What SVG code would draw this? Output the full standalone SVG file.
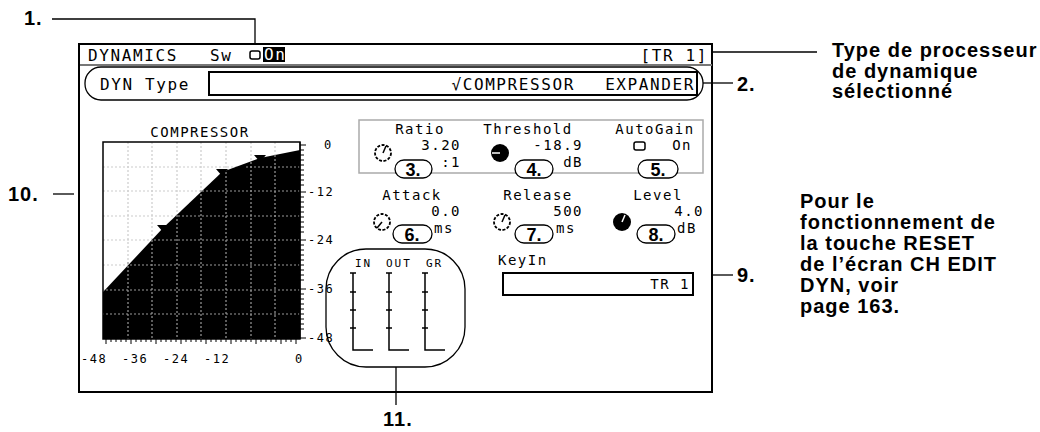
<svg xmlns="http://www.w3.org/2000/svg" width="1040" height="432" viewBox="0 0 1040 432">
<style>
.m{font-family:"DejaVu Sans Mono","Liberation Mono",monospace;font-size:16px;letter-spacing:1.6px;fill:#000}
.p{font-family:"DejaVu Sans Mono","Liberation Mono",monospace;font-size:14px;letter-spacing:1.5px;fill:#000}
.s{font-family:"DejaVu Sans Mono","Liberation Mono",monospace;font-size:12px;letter-spacing:1.5px;fill:#000}
.t{font-family:"DejaVu Sans Mono","Liberation Mono",monospace;font-size:11px;letter-spacing:2px;fill:#000}
.b{font-family:"Liberation Sans",Arial,sans-serif;font-weight:bold;font-size:20px;letter-spacing:1px;fill:#000}
.n{font-family:"Liberation Sans",Arial,sans-serif;font-weight:bold;font-size:18px;fill:#000}
.l{stroke:#000;stroke-width:1.3;fill:none}
.bub{fill:#fff;stroke:#000;stroke-width:1.3}
.gridw{stroke:#ccc;stroke-width:1.2;stroke-dasharray:2 2}
</style>
<rect width="1040" height="432" fill="#fff"/>
<g id="screen">
<rect x="79" y="44" width="633" height="348" fill="#fff" stroke="#000" stroke-width="2"/>
<text class="m" x="88" y="61">DYNAMICS</text>
<text class="m" x="210" y="61">Sw</text>
<rect x="250" y="51" width="10" height="8" rx="2" fill="none" stroke="#000" stroke-width="1.5"/>
<rect x="263" y="47" width="22" height="15" fill="#000"/>
<text class="m" x="264" y="60" style="fill:#fff">On</text>
<text class="m" x="708" y="61" text-anchor="end">[TR 1]</text>
<line x1="80" y1="65" x2="712" y2="65" stroke="#777" stroke-width="2"/>
</g>
<g id="dyntype">
<rect x="85" y="67" width="618" height="33" rx="16" fill="none" stroke="#000" stroke-width="1.3"/>
<text class="m" x="100" y="90">DYN Type</text>
<rect x="209" y="72" width="488" height="23" fill="#fff" stroke="#000" stroke-width="2"/>
<text class="m" x="575" y="90" text-anchor="end">√COMPRESSOR</text>
<text class="m" x="695" y="90" text-anchor="end">EXPANDER</text>
</g>
<g id="graph">
<text class="p" x="200" y="137" text-anchor="middle">COMPRESSOR</text>
<rect x="103" y="142" width="197" height="197" fill="#fff"/>
<g class="gridw">
<line x1="128" y1="142" x2="128" y2="339"/><line x1="152" y1="142" x2="152" y2="339"/><line x1="177" y1="142" x2="177" y2="339"/><line x1="201" y1="142" x2="201" y2="339"/><line x1="226" y1="142" x2="226" y2="339"/><line x1="251" y1="142" x2="251" y2="339"/><line x1="275" y1="142" x2="275" y2="339"/>
<line x1="103" y1="167" x2="300" y2="167"/><line x1="103" y1="191" x2="300" y2="191"/><line x1="103" y1="216" x2="300" y2="216"/><line x1="103" y1="240" x2="300" y2="240"/><line x1="103" y1="265" x2="300" y2="265"/><line x1="103" y1="290" x2="300" y2="290"/><line x1="103" y1="314" x2="300" y2="314"/>
</g>
<polygon points="103,292 163,228 222,172 260,158 300,150 300,339 103,339" fill="#000"/>
<g stroke="#999" stroke-width="1.2" stroke-dasharray="2 2">
<line x1="128" y1="262" x2="128" y2="339"/><line x1="152" y1="240" x2="152" y2="339"/><line x1="177" y1="215" x2="177" y2="339"/><line x1="201" y1="190" x2="201" y2="339"/><line x1="226" y1="172" x2="226" y2="339"/><line x1="251" y1="162" x2="251" y2="339"/><line x1="275" y1="155" x2="275" y2="339"/>
<line x1="300" y1="167" x2="245" y2="167"/><line x1="300" y1="191" x2="200" y2="191"/><line x1="300" y1="216" x2="176" y2="216"/><line x1="300" y1="240" x2="152" y2="240"/><line x1="300" y1="265" x2="128" y2="265"/><line x1="300" y1="290" x2="106" y2="290"/><line x1="300" y1="314" x2="103" y2="314"/>
</g>
<rect x="103" y="142" width="197" height="197" fill="none" stroke="#000" stroke-width="1.5"/>
<polygon points="157,225 169,225 163,232" fill="#000"/>
<polygon points="216,169 228,169 222,176" fill="#000"/>
<polygon points="254,155 266,155 260,162" fill="#000"/>
<g stroke="#000" stroke-width="1">
<line x1="300" y1="142" x2="300" y2="339"/>
<path d="M300 145h6M300 150h4M300 155h4M300 160h4M300 165h4M300 170h4M300 175h4M300 180h4M300 185h4M300 192h6M300 197h4M300 202h4M300 207h4M300 212h4M300 217h4M300 222h4M300 227h4M300 232h4M300 240h6M300 245h4M300 250h4M300 255h4M300 260h4M300 265h4M300 270h4M300 275h4M300 280h4M300 289h6M300 294h4M300 299h4M300 304h4M300 309h4M300 314h4M300 319h4M300 324h4M300 329h4M300 338h6"/>
<path d="M106 339v5M111 339v3M116 339v3M121 339v3M126 339v3M131 339v5M136 339v3M141 339v3M146 339v3M151 339v3M156 339v5M161 339v3M166 339v3M171 339v3M176 339v3M181 339v5M186 339v3M191 339v3M196 339v3M201 339v3M206 339v5M211 339v3M216 339v3M221 339v3M226 339v3M231 339v5M236 339v3M241 339v3M246 339v3M251 339v3M256 339v5M261 339v3M266 339v3M271 339v3M276 339v3M281 339v5M286 339v3M291 339v3M296 339v5"/>
</g>
<text class="s" x="324" y="149">0</text>
<text class="s" x="308" y="196">-12</text>
<text class="s" x="308" y="244">-24</text>
<text class="s" x="308" y="293">-36</text>
<text class="s" x="308" y="342">-48</text>
<text class="s" x="81" y="363">-48</text>
<text class="s" x="122" y="363">-36</text>
<text class="s" x="163" y="363">-24</text>
<text class="s" x="204" y="363">-12</text>
<text class="s" x="295" y="363">0</text>
</g>
<g id="params">
<rect x="359" y="120" width="344" height="53" fill="none" stroke="#aaa" stroke-width="1.5"/>
<text class="p" x="420" y="134" text-anchor="middle">Ratio</text>
<text class="p" x="528" y="134" text-anchor="middle">Threshold</text>
<text class="p" x="655" y="134" text-anchor="middle">AutoGain</text>
<circle cx="383" cy="153" r="8" fill="none" stroke="#000" stroke-width="1.8" stroke-dasharray="3 1.5"/><line x1="383" y1="153" x2="386" y2="146" stroke="#000" stroke-width="1.5"/>
<circle cx="500" cy="153" r="9" fill="#000"/><line x1="500" y1="153" x2="492" y2="153" stroke="#fff" stroke-width="1.5"/>
<text class="p" x="461" y="150" text-anchor="end">3.20</text>
<text class="p" x="461" y="167" text-anchor="end">:1</text>
<text class="p" x="583" y="150" text-anchor="end">-18.9</text>
<text class="p" x="583" y="167" text-anchor="end">dB</text>
<rect x="634" y="142" width="11" height="8" rx="2" fill="none" stroke="#000" stroke-width="1.5"/>
<text class="p" x="692" y="150" text-anchor="end">On</text>
<text class="p" x="412" y="200" text-anchor="middle">Attack</text>
<text class="p" x="538" y="200" text-anchor="middle">Release</text>
<text class="p" x="658" y="200" text-anchor="middle">Level</text>
<circle cx="382" cy="222" r="8" fill="none" stroke="#000" stroke-width="1.8" stroke-dasharray="3 1.5"/><line x1="382" y1="222" x2="377" y2="228" stroke="#000" stroke-width="1.5"/>
<circle cx="502" cy="222" r="8" fill="none" stroke="#000" stroke-width="1.8" stroke-dasharray="3 1.5"/><line x1="502" y1="222" x2="505" y2="215" stroke="#000" stroke-width="1.5"/>
<circle cx="622" cy="222" r="9" fill="#000"/><line x1="622" y1="222" x2="625" y2="215" stroke="#fff" stroke-width="1.5"/>
<text class="p" x="461" y="216" text-anchor="end">0.0</text>
<text class="p" x="583" y="216" text-anchor="end">500</text>
<text class="p" x="704" y="216" text-anchor="end">4.0</text>
<text class="p" x="434" y="233">ms</text>
<text class="p" x="556" y="233">ms</text>
<text class="p" x="677" y="233">dB</text>
<text class="p" x="498" y="265">KeyIn</text>
<rect x="503" y="273" width="190" height="22" fill="#fff" stroke="#000" stroke-width="2"/>
<text class="p" x="690" y="289" text-anchor="end">TR 1</text>
</g>
<g id="meters">
<rect x="326" y="249" width="139" height="118" rx="40" fill="none" stroke="#000" stroke-width="1.3"/>
<text class="t" x="355" y="267">IN</text>
<text class="t" x="386" y="267">OUT</text>
<text class="t" x="426" y="267">GR</text>
<g stroke="#000" stroke-width="1.5" fill="none">
<path d="M353 273v77h20M389 273v77h20M425 273v77h20"/>
<path d="M350 273h6M350 292h6M350 310h6M350 328h6M386 273h6M386 292h6M386 310h6M386 328h6M422 273h6M422 292h6M422 310h6M422 328h6"/>
</g>
</g>
<g id="bubbles">
<rect x="395" y="160" width="37" height="18" rx="9" class="bub"/><text class="n" x="413" y="176" text-anchor="middle">3.</text>
<rect x="515" y="160" width="38" height="18" rx="9" class="bub"/><text class="n" x="534" y="176" text-anchor="middle">4.</text>
<rect x="638" y="160" width="40" height="18" rx="9" class="bub"/><text class="n" x="658" y="176" text-anchor="middle">5.</text>
<rect x="393" y="225" width="39" height="18" rx="9" class="bub"/><text class="n" x="412" y="241" text-anchor="middle">6.</text>
<rect x="515" y="225" width="38" height="18" rx="9" class="bub"/><text class="n" x="534" y="241" text-anchor="middle">7.</text>
<rect x="637" y="225" width="38" height="18" rx="9" class="bub"/><text class="n" x="656" y="241" text-anchor="middle">8.</text>
</g>
<g id="connectors" class="l">
<path d="M52 19H255V45"/>
<line x1="712" y1="52" x2="817" y2="52"/>
<line x1="703" y1="83" x2="733" y2="83"/>
<line x1="53" y1="194" x2="74" y2="194"/>
<line x1="712" y1="275" x2="733" y2="275"/>
<line x1="396" y1="367" x2="396" y2="405"/>
</g>
<g id="callouts">
<text class="b" x="24" y="25">1.</text>
<text class="b" x="737" y="91">2.</text>
<text class="b" x="8" y="201">10.</text>
<text class="b" x="737" y="282">9.</text>
<text class="b" x="383" y="426">11.</text>
<text class="b" x="832" y="57">Type de processeur</text>
<text class="b" x="832" y="78">de dynamique</text>
<text class="b" x="832" y="98">sélectionné</text>
<text class="b" x="800" y="208">Pour le</text>
<text class="b" x="800" y="229">fonctionnement de</text>
<text class="b" x="800" y="250">la touche RESET</text>
<text class="b" x="800" y="271">de l’écran CH EDIT</text>
<text class="b" x="800" y="292">DYN, voir</text>
<text class="b" x="800" y="313">page 163.</text>
</g>
</svg>
